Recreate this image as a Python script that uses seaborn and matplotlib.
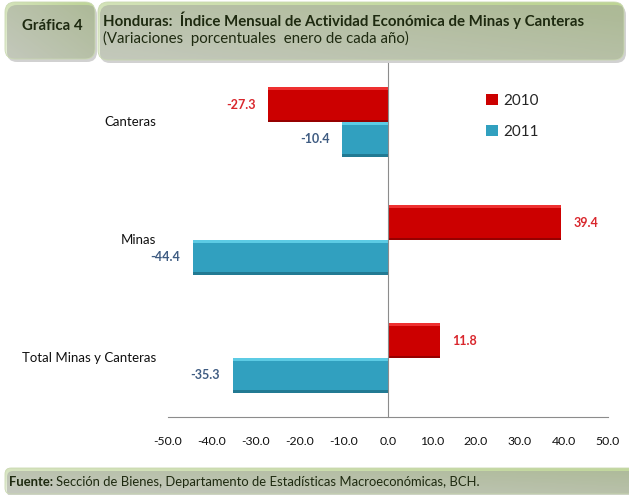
import numpy as np
import pandas as pd
import matplotlib
matplotlib.use("Agg")
import matplotlib.pyplot as plt
import matplotlib.transforms as mtransforms
from matplotlib.patches import FancyBboxPatch, Rectangle
from matplotlib.colors import to_rgb
import seaborn as sns

# --- Data ---
categories = ["Canteras", "Minas", "Total Minas y Canteras"]
years = ["2010", "2011"]
values_2010 = [-27.3, 39.4, 11.8]
values_2011 = [-10.4, -44.4, -35.3]
x_ticks = [-50, -40, -30, -20, -10, 0, 10, 20, 30, 40, 50]

df = pd.DataFrame({
    "Categoria": categories * 2,
    "Año": [years[0]] * len(categories) + [years[1]] * len(categories),
    "Valor": values_2010 + values_2011,
})

# --- Style ---
sns.set_style("white")
plt.rcParams["font.family"] = ["Lato", "DejaVu Sans"]

red = "#CC0000"
cyan = "#31A0BF"
label_colors = {"2010": "#D9262C", "2011": "#3F5C82"}
axis_gray = "#8C8C8C"

fig = plt.figure(figsize=(6.29, 4.95), dpi=100)

# background layer in pixel coordinates for the header / footer boxes
bg = fig.add_axes([0, 0, 1, 1], zorder=-1)
bg.set_xlim(0, 629)
bg.set_ylim(495, 0)
bg.axis("off")


def gradient_box(x, y, w, h, c_light, c_dark, r):
    shadow = FancyBboxPatch((x + 2, y + 3), w, h, boxstyle=f"round,pad=0,rounding_size={r}",
                            fc="#9A9A9A", ec="none", alpha=0.45)
    bg.add_patch(shadow)
    box = FancyBboxPatch((x, y), w, h, boxstyle=f"round,pad=0,rounding_size={r}",
                         fc="none", ec="#C9D8B0", lw=0.6)
    bg.add_patch(box)
    gx, gy = np.meshgrid(np.linspace(0, 1, 80), np.linspace(0, 1, 40))
    t = np.clip(0.6 * gx + 0.5 * (1 - gy), 0, 1)[..., None]
    img = np.array(to_rgb(c_light)) * (1 - t) + np.array(to_rgb(c_dark)) * t
    im = bg.imshow(img, extent=(x, x + w, y + h, y), origin="upper", aspect="auto", zorder=0)
    im.set_clip_path(box)


gradient_box(5, 2, 90, 57, "#E6EFD8", "#C0D69A", 10)
gradient_box(98, 2, 526, 58, "#E6EFD8", "#BED595", 10)
gradient_box(5, 468, 640, 26, "#E9F0DE", "#C2D79E", 6)
bg.set_xlim(0, 629)
bg.set_ylim(495, 0)

bg.text(52, 26, "Gráfica 4", fontsize=10.8, fontweight="bold", color="#1E2A10",
        ha="center", va="center")
bg.text(103, 20, "Honduras:  Índice Mensual de Actividad Económica de Minas y Canteras",
        fontsize=10.8, fontweight="bold", color="#1E2A10", ha="left", va="center")
bg.text(103, 38, "(Variaciones  porcentuales  enero de cada año)",
        fontsize=10.8, color="#1E2A10", ha="left", va="center")

# footer: bold source prefix followed by regular text
t1 = bg.text(9, 482, "Fuente:", fontsize=9.4, fontweight="bold", color="#1E2A10",
             ha="left", va="center")
fig.canvas.draw()
bb = t1.get_window_extent(renderer=fig.canvas.get_renderer())
x_next = bb.x1 + 3
bg.text(x_next, 482, "Sección de Bienes, Departamento de Estadísticas Macroeconómicas, BCH.",
        fontsize=9.4, color="#1E2A10", ha="left", va="center")

# --- Main chart ---
ax = fig.add_axes([168 / 629, (495 - 417) / 495, 440 / 629, 354 / 495])
sns.barplot(data=df, x="Valor", y="Categoria", hue="Año", orient="h",
            order=categories, hue_order=years, palette=[red, cyan],
            width=0.585, saturation=1, edgecolor="none", ax=ax)

# bevel effect on the bars
shades = {0: ("#EE3030", "#960000"), 1: ("#5CCBE4", "#227A93")}
for i, container in enumerate(ax.containers):
    light, dark = shades[i]
    for bar in container:
        x0, y0 = bar.get_x(), bar.get_y()
        w, h = bar.get_width(), bar.get_height()
        ax.add_patch(Rectangle((x0, y0), w, h * 0.08, fc=light, ec="none", zorder=2))
        ax.add_patch(Rectangle((x0, y0 + h * 0.93), w, h * 0.07, fc=dark, ec="none", zorder=2))
    ax.bar_label(container, fmt="%.1f", padding=9, color=label_colors[years[i]],
                 fontweight="bold", fontsize=9)

ax.set_xlim(-50, 50)
ax.set_xticks(x_ticks)
ax.set_xticklabels([f"{v:.1f}" for v in x_ticks])
ax.set_yticks(np.arange(-0.5, len(categories), 0.5))
ax.set_ylim(len(categories) - 0.5, -0.5)
ax.set_xlabel("")
ax.set_ylabel("")

for side in ["top", "right"]:
    ax.spines[side].set_visible(False)
ax.spines["left"].set_position(("data", 0))
ax.spines["left"].set_color(axis_gray)
ax.spines["bottom"].set_color(axis_gray)
ax.tick_params(axis="y", direction="in", length=4, color=axis_gray, labelleft=False)
ax.tick_params(axis="x", direction="out", length=5, color=axis_gray, labelsize=8.8,
               labelcolor="#111111", pad=9)

trans = mtransforms.blended_transform_factory(ax.transAxes, ax.transData)
for i, cat in enumerate(categories):
    ax.text(-0.026, i, cat, transform=trans, ha="right", va="center", fontsize=9.5,
            color="#111111")

sns.move_legend(ax, loc="upper left", bbox_to_anchor=(0.705, 0.935), frameon=False,
                title=None, fontsize=11, handlelength=0.8, handleheight=0.8,
                handletextpad=0.35, labelspacing=1.1, borderpad=0)

fig.savefig("out.png", dpi=100)
